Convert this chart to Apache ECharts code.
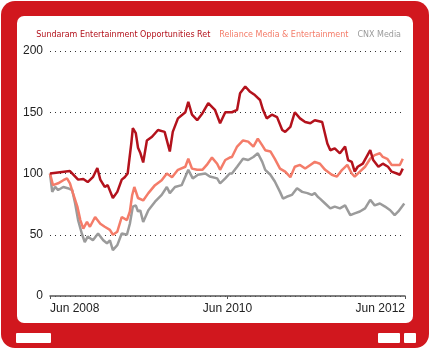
<!DOCTYPE html>
<html>
<head>
<meta charset="utf-8">
<script src="https://cdn.jsdelivr.net/npm/echarts@6/dist/echarts.min.js"></script>
<style>
  html, body { margin: 0; padding: 0; background: #fff; }
  #main { width: 430px; height: 350px; }
</style>
</head>
<body>
<div id="main"></div>
<script>
// months since Jun 2008, rebased to 100
var seriesNames = ['Sundaram Entertainment Opportunities Ret', 'Reliance Media & Entertainment', 'CNX Media'];
var xTickLabels = ['Jun 2008', 'Jun 2010', 'Jun 2012'];
var yTicks = [0, 50, 100, 150, 200];

var sundaramMonths = [0, 2.7, 3.8, 4.5, 5.1, 5.8, 6.4, 6.8, 7.4, 7.8, 8.5, 9.1, 9.7, 10.1, 10.5, 11.0, 11.2, 11.6, 11.9, 12.2, 12.6,
  13.1, 13.8, 14.6, 15.5, 16.2, 16.6, 17.3, 18.3, 18.7, 19.2, 19.9, 20.6, 21.4, 22.3, 23.0, 23.7, 24.6, 25.3, 25.7, 26.4,
  27.0, 27.7, 28.4, 28.8, 29.3, 30.0, 30.7, 31.4, 31.8, 32.5, 33.1, 33.8, 34.5, 35.2, 35.8, 36.8, 37.5, 37.9, 38.5, 39.2,
  39.9, 40.3, 40.8, 41.2, 41.6, 42.3, 43.3, 43.7, 44.4, 45.0, 45.7, 46.2, 46.9, 47.3, 47.7];
var sundaramValues = [100, 102, 95, 95.5, 93, 97, 104.5, 95, 89, 90.5, 80, 85, 95, 97, 100, 125, 137, 133, 121, 117, 109,
  127, 130, 135.5, 134, 118, 134, 145, 150, 158.5, 148, 143.5, 149, 157.5, 152, 141, 150, 150, 152, 165.5, 171,
  167, 164, 160, 152, 145, 148, 146, 135.5, 134, 138, 150, 145, 142, 141, 143.5, 142, 124.5, 119, 120.5, 116.5,
  122, 111, 109.5, 101.5, 105.5, 108, 119, 111, 105.5, 108, 105.5, 101.5, 100, 99, 104];

var relianceMonths = [0, 0.4, 1.1, 1.8, 2.3, 2.7, 3.1, 3.7, 4.1, 4.5, 5.0, 5.4, 6.1, 6.8, 7.4, 8.1, 8.5, 9.1, 9.7, 10.4, 10.8,
  11.1, 11.4, 11.9, 12.6, 13.3, 14.2, 15.1, 15.8, 16.5, 17.3, 18.3, 18.7, 19.2, 19.9, 20.6, 21.2, 21.9, 22.6, 23.0, 23.7,
  24.3, 24.6, 25.3, 26.1, 26.8, 27.5, 28.1, 28.7, 29.1, 29.8, 30.4, 31.1, 31.8, 32.5, 33.1, 33.8, 34.5, 35.2, 35.8, 36.5,
  37.2, 38.1, 38.8, 39.5, 40.2, 40.8, 41.2, 41.9, 42.6, 43.3, 43.9, 44.6, 45.0, 45.6, 46.2, 46.9, 47.3, 47.7];
var relianceValues = [100, 90.5, 92, 94.5, 96, 92, 84, 73, 62, 55, 60.5, 56.5, 64.5, 59, 56.5, 54, 50, 52.5, 64.5, 62, 69,
  82, 89, 80, 78, 84, 90.5, 94.5, 100, 97, 103, 105.5, 112, 104, 103, 103, 107, 113, 108, 103, 111,
  113, 113.5, 122, 127, 126, 122, 128.5, 123, 119, 118, 112, 104, 101.5, 97, 105.5, 107, 104, 107, 109.5, 108,
  103, 99, 97.5, 103, 107, 100, 97.5, 101.5, 105.5, 112, 115, 116.5, 113.5, 112, 107, 107, 107, 112];

var cnxMonths = [0, 0.3, 0.7, 1.1, 1.8, 2.4, 3.0, 3.4, 3.8, 4.3, 4.7, 5.1, 5.8, 6.5, 7.2, 7.7, 8.1, 8.5, 9.1, 9.7, 10.4,
  10.8, 11.2, 11.6, 11.9, 12.2, 12.6, 13.3, 14.2, 15.1, 15.8, 16.2, 16.9, 17.8, 18.7, 19.3, 20.0, 21.0, 21.6, 22.6, 23.0,
  23.7, 24.3, 24.6, 25.3, 26.1, 26.8, 27.5, 28.1, 28.7, 29.1, 29.8, 30.4, 31.1, 31.5, 32.0, 32.7, 33.4, 34.1, 34.8, 35.4,
  35.8, 36.2, 36.5, 37.2, 37.9, 38.5, 39.2, 39.9, 40.6, 41.2, 41.9, 42.6, 43.3, 43.9, 44.6, 45.3, 46.0, 46.6, 47.1, 47.6, 47.9];
var cnxValues = [100, 85, 89, 86.5, 89, 88, 86.5, 75.5, 62, 51, 44, 48.5, 45.5, 51, 45.5, 43, 45.5, 37.5, 41.5, 51, 50,
  59, 73, 74, 69, 70, 60.5, 70, 77, 82.5, 89, 84, 89, 90.5, 103, 96, 99, 100, 97.5, 96, 92,
  96, 100, 100, 105.5, 112, 111, 113.5, 116.5, 109.5, 103, 99, 93.5, 85, 79.5, 81, 82.5, 88, 85, 84, 82.5,
  84, 81, 79.5, 75.5, 71.5, 73, 71.5, 74, 66, 67.5, 69, 71.5, 78.5, 74, 75.5, 73, 70, 66, 69, 73, 75.5];

var colors = ['#b3121c', '#f47c69', '#9b9b9b'];
var frameRed = '#d1171e';
var font = "'DejaVu Sans Condensed', sans-serif";

function zip(xs, ys) {
  return xs.map(function (x, i) { return [x, ys[i]]; });
}

var chart = echarts.init(document.getElementById('main'));
chart.setOption({
  animation: false,
  backgroundColor: '#fff',
  graphic: [
    { type: 'rect', z: -10, silent: true, shape: { x: 1, y: 1, width: 428, height: 347, r: 14 }, style: { fill: frameRed } },
    { type: 'rect', z: -9, silent: true, shape: { x: 17, y: 16, width: 396, height: 307, r: 7 }, style: { fill: '#fff' } },
    { type: 'rect', z: -9, silent: true, shape: { x: 16, y: 333, width: 35, height: 10, r: 1 }, style: { fill: '#fff' } },
    { type: 'rect', z: -9, silent: true, shape: { x: 378, y: 333, width: 22, height: 10, r: 1 }, style: { fill: '#fff' } },
    { type: 'rect', z: -9, silent: true, shape: { x: 404, y: 333, width: 12, height: 10, r: 1 }, style: { fill: '#fff' } }
  ],
  legend: {
    top: 25,
    right: 24,
    itemWidth: 0,
    itemHeight: 0,
    itemGap: 9,
    textStyle: { fontFamily: font, fontSize: 8.9, padding: [0, 0, 0, -5] },
    data: seriesNames.map(function (n, i) {
      return { name: n, icon: 'rect', textStyle: { color: colors[i] } };
    })
  },
  grid: { left: 50, right: 25, top: 51, bottom: 54 },
  xAxis: {
    type: 'value',
    min: 0,
    max: 48,
    interval: 24,
    axisLine: { lineStyle: { color: '#555', width: 1.5 } },
    axisTick: { show: true, length: 3, lineStyle: { color: '#555' } },
    splitLine: { show: false },
    axisLabel: {
      fontFamily: 'Liberation Sans, sans-serif',
      fontSize: 12,
      color: '#222',
      margin: 7,
      alignMinLabel: 'left',
      alignMaxLabel: 'right',
      formatter: function (v) { return xTickLabels[Math.round(v / 24)]; }
    }
  },
  yAxis: {
    type: 'value',
    min: yTicks[0],
    max: yTicks[yTicks.length - 1],
    interval: 50,
    axisLine: { show: false },
    axisTick: { show: false },
    axisLabel: { fontFamily: 'Liberation Sans, sans-serif', fontSize: 12, color: '#222', margin: 7 },
    splitLine: { lineStyle: { color: '#333', type: [1, 4], width: 1 } }
  },
  series: [
    { name: seriesNames[2], type: 'line', showSymbol: false, z: 3, color: colors[2], lineStyle: { width: 2.5 }, data: zip(cnxMonths, cnxValues) },
    { name: seriesNames[1], type: 'line', showSymbol: false, z: 4, color: colors[1], lineStyle: { width: 2.5 }, data: zip(relianceMonths, relianceValues) },
    { name: seriesNames[0], type: 'line', showSymbol: false, z: 5, color: colors[0], lineStyle: { width: 2.5 }, data: zip(sundaramMonths, sundaramValues) }
  ]
});
</script>
</body>
</html>
